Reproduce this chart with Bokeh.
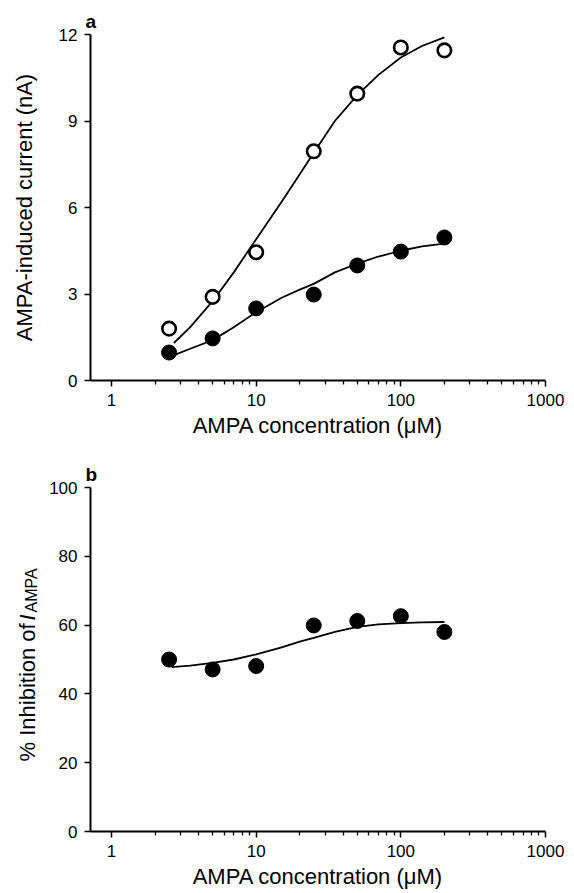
import math
from bokeh.plotting import figure
from bokeh.models import Range1d, FixedTicker, NumeralTickFormatter, Label
from bokeh.layouts import column, row
from bokeh.embed import file_html
from bokeh.resources import INLINE

# ---- data ----
conc = [2.5, 5, 10, 25, 50, 100, 200]
current_open = [1.8, 2.9, 4.45, 7.95, 9.95, 11.55, 11.45]
current_filled = [0.97, 1.46, 2.5, 2.98, 3.99, 4.47, 4.96]
inhibition = [50.0, 47.1, 48.1, 59.9, 61.2, 62.6, 58.0]

fit_conc = [2.7, 3.5, 5, 7, 10, 15, 20, 25, 35, 50, 70, 100, 140, 200]
fit_open = [1.30, 1.85, 2.75, 3.75, 4.9, 6.2, 7.15, 7.9, 9.0, 9.9, 10.6, 11.2, 11.6, 11.9]
fit_filled = [0.88, 1.1, 1.4, 1.85, 2.37, 2.87, 3.15, 3.35, 3.75, 4.05, 4.3, 4.5, 4.65, 4.75]
fit_inh_conc = [2.6, 3.5, 5, 7, 10, 15, 20, 25, 35, 50, 70, 100, 140, 200]
fit_inh = [47.8, 48.2, 49.0, 50.0, 51.5, 53.5, 55.2, 56.3, 58.0, 59.5, 60.2, 60.6, 60.8, 60.9]

x_major = [1, 10, 100, 1000]
x_minor = [2, 3, 4, 5, 6, 7, 8, 9, 20, 30, 40, 50, 60, 70, 80, 90,
           200, 300, 400, 500, 600, 700, 800, 900]
y_ticks_a = [0, 3, 6, 9, 12]
y_ticks_b = [0, 20, 40, 60, 80, 100]

x_title = "AMPA concentration (\u03bcM)"
y_title_a = "AMPA-induced current (nA)"

FONT = "Liberation Sans"
X_START = 0.7157
STRIP = 46


def make_fig(width, height, y_end, left, top, bottom, yticks, letter):
    p = figure(width=width, height=height, x_axis_type="log",
               x_range=Range1d(X_START, 1000), y_range=Range1d(0, y_end),
               output_backend="svg", toolbar_location=None,
               min_border_left=left, min_border_right=29,
               min_border_top=top, min_border_bottom=bottom)
    p.grid.visible = False
    p.outline_line_color = None
    p.background_fill_color = "white"
    p.border_fill_color = "white"
    for ax in (p.xaxis[0], p.yaxis[0]):
        ax.axis_line_width = 2
        ax.axis_line_color = "black"
        ax.major_tick_line_width = 1.5
        ax.minor_tick_line_width = 1.3
        ax.major_tick_in = 0
        ax.major_tick_out = 6
        ax.minor_tick_in = 0
        ax.minor_tick_out = 4
        ax.major_label_text_font = FONT
        ax.major_label_text_font_size = "17px"
        ax.major_label_text_color = "black"
        ax.major_label_standoff = 7
        ax.axis_label_text_font = FONT
        ax.axis_label_text_font_size = "22px"
        ax.axis_label_text_font_style = "normal"
        ax.axis_label_text_color = "black"
    p.xaxis[0].ticker = FixedTicker(ticks=x_major, minor_ticks=x_minor)
    p.xaxis[0].formatter = NumeralTickFormatter(format="0")
    p.xaxis[0].axis_label = x_title
    p.xaxis[0].axis_label_standoff = 4
    p.yaxis[0].ticker = FixedTicker(ticks=yticks)
    p.title.text = letter
    p.title.align = "left"
    p.title.offset = -5
    p.title.standoff = 5
    p.title.text_font = FONT
    p.title.text_font_size = "19px"
    p.title.text_font_style = "bold"
    p.title.text_color = "black"
    return p


# ---- panel a ----
pa = make_fig(574, 444, 12, 90, 34, 64, y_ticks_a, "a")
pa.yaxis[0].axis_label = y_title_a
pa.yaxis[0].axis_label_standoff = 19
pa.line(fit_conc, fit_open, line_color="black", line_width=1.8)
pa.line(fit_conc, fit_filled, line_color="black", line_width=1.8)
pa.scatter(conc, current_open, marker="circle", size=13.5, fill_color="white",
           line_color="black", line_width=2.6)
pa.scatter(conc, current_filled, marker="circle", size=15, fill_color="black",
           line_color="black", line_width=1)

# ---- panel b ----
pb = make_fig(574 - STRIP, 449, 100, 90 - STRIP, 43, 62, y_ticks_b, "b")
pb.line(fit_inh_conc, fit_inh, line_color="black", line_width=1.8)
pb.scatter(conc, inhibition, marker="circle", size=15, fill_color="black",
           line_color="black", line_width=1)

# y title of panel b (with italic I and subscript) in a narrow text strip
lab = figure(width=STRIP, height=449, x_range=Range1d(0, 1), y_range=Range1d(0, 1),
             output_backend="svg", toolbar_location=None, min_border=0,
             x_axis_location=None, y_axis_location=None)
lab.outline_line_color = None
lab.grid.visible = False


def vtext(t, x, y, size="22px", style="normal"):
    lab.add_layout(Label(x=x, y=y, x_units="screen", y_units="screen", text=t,
                         angle=math.pi / 2, text_align="left",
                         text_baseline="alphabetic", text_font=FONT,
                         text_font_size=size, text_font_style=style,
                         text_color="black"))


vtext("% Inhibition of", 27, 70)
vtext("I", 27, 211, style="italic")
vtext("AMPA", 30.5, 219, size="16px")

layout = column(pa, row(lab, pb, spacing=0), spacing=0)
open("out.html", "w").write(file_html(layout, INLINE))
